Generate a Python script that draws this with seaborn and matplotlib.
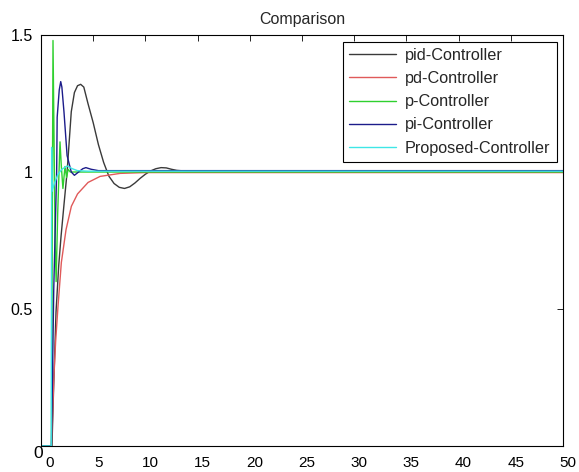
import pandas as pd
import seaborn as sns
import matplotlib
matplotlib.use("Agg")
import matplotlib.pyplot as plt
from matplotlib.transforms import ScaledTranslation

# step responses (time, output)
pid_t = [0, 1.05, 1.2, 1.44, 1.7, 1.92, 2.2, 2.5, 2.9, 3.2, 3.5, 3.8, 4.1, 4.5, 5.0, 5.5, 6.0,
         6.5, 7.0, 7.5, 8.0, 8.5, 9.0, 9.5, 10.0, 10.5, 11.0, 11.5, 12.0, 12.5, 13.0, 14.0, 15.0, 50]
pid_y = [0, 0, 0.2, 0.49, 0.66, 0.765, 0.88, 1.0, 1.22, 1.29, 1.315, 1.32, 1.31, 1.25, 1.18, 1.1, 1.035,
         0.985, 0.958, 0.944, 0.94, 0.946, 0.96, 0.977, 0.992, 1.004, 1.012, 1.016, 1.015, 1.01, 1.006, 1.003, 1.002, 1.002]

pd_t = [0, 1.0, 1.1, 1.22, 1.4, 1.63, 1.95, 2.4, 2.91, 3.5, 4.51, 5.66, 7.58, 10.0, 50]
pd_y = [0, 0, 0.1, 0.24, 0.38, 0.51, 0.67, 0.79, 0.875, 0.92, 0.962, 0.984, 0.995, 0.998, 0.998]

p_t = [0, 1.0, 1.15, 1.35, 1.45, 1.6, 1.82, 1.95, 2.1, 2.3, 2.45, 2.6, 2.8, 50]
p_y = [0, 0, 1.48, 0.75, 0.6, 0.85, 1.11, 1.02, 0.94, 1.02, 0.98, 1.01, 1.0, 1.0]

pi_t = [0, 1.0, 1.1, 1.22, 1.4, 1.5, 1.55, 1.75, 1.89, 2.0, 2.2, 2.5, 2.9, 3.2, 3.6, 4.0, 4.3, 4.8, 5.5, 7.0, 50]
pi_y = [0, 0, 0.25, 0.57, 0.85, 1.0, 1.2, 1.3, 1.33, 1.31, 1.22, 1.06, 1.0, 0.988, 1.0, 1.012, 1.016, 1.01, 1.005, 1.005, 1.005]

prop_t = [0, 0.98, 1.02, 1.06, 1.3, 1.6, 2.0, 2.5, 3.0, 3.5, 4.5, 50]
prop_y = [0, 0, 1.09, 0.93, 0.96, 0.99, 1.01, 1.022, 1.012, 1.005, 1.003, 1.003]

names = ["pid-Controller", "pd-Controller", "p-Controller", "pi-Controller", "Proposed-Controller"]
colors = ["#3a3a3a", "#e05a5a", "#2fd02f", "#1c1c8a", "#3fe6e6"]

frames = []
for name, t, y in zip(names, [pid_t, pd_t, p_t, pi_t, prop_t], [pid_y, pd_y, p_y, pi_y, prop_y]):
    frames.append(pd.DataFrame({"t": t, "y": y, "series": name}))
df = pd.concat(frames, ignore_index=True)

sns.set_theme(style="white")
plt.rcParams['font.family'] = ['Liberation Sans', 'DejaVu Sans']

fig = plt.figure(figsize=(5.79, 4.72), dpi=100)
ax = fig.add_axes([0.0708, 0.0551, 0.9016, 0.8707])

sns.lineplot(data=df, x="t", y="y", hue="series", hue_order=names, palette=colors,
             estimator=None, sort=False, linewidth=1.0, ax=ax)

ax.set_xlim(0, 50)
ax.set_ylim(0, 1.5)
ax.set_xticks(range(0, 51, 5))
ax.set_yticks([0, 0.5, 1, 1.5])
ax.set_yticklabels(["0", "0.5", "1", "1.5"])
ax.set_xlabel("")
ax.set_ylabel("")
ax.set_title("Comparison", fontsize=11.5, pad=8)

for sp in ax.spines.values():
    sp.set_visible(True)
    sp.set_color("black")
    sp.set_linewidth(0.8)

ax.tick_params(axis="both", direction="in", length=4, width=0.6, colors="black",
               labelsize=11.5, top=True, right=True)
ax.tick_params(axis="x", pad=7, labelsize=11)
ax.tick_params(axis="y", pad=6)

# the labels in the original sit a little to the right of their ticks
for i, lab in enumerate(ax.get_xticklabels()):
    dx = 9 if i == 0 else 5
    lab.set_transform(lab.get_transform() + ScaledTranslation(dx / 100, 0, fig.dpi_scale_trans))
ylab0 = ax.get_yticklabels()[0]
ylab0.set_transform(ylab0.get_transform() + ScaledTranslation(10 / 100, -6 / 100, fig.dpi_scale_trans))
ylab0.set_fontsize(12.5)

leg = ax.legend(loc="upper right", fontsize=11.7, frameon=True, fancybox=False,
                handlelength=2.9, handletextpad=0.5, labelspacing=0.5,
                borderaxespad=0.4, borderpad=0.4)
leg.get_frame().set_edgecolor("black")
leg.get_frame().set_linewidth(0.8)
leg.get_frame().set_alpha(1)

plt.savefig("out.png", dpi=100, facecolor="w")
